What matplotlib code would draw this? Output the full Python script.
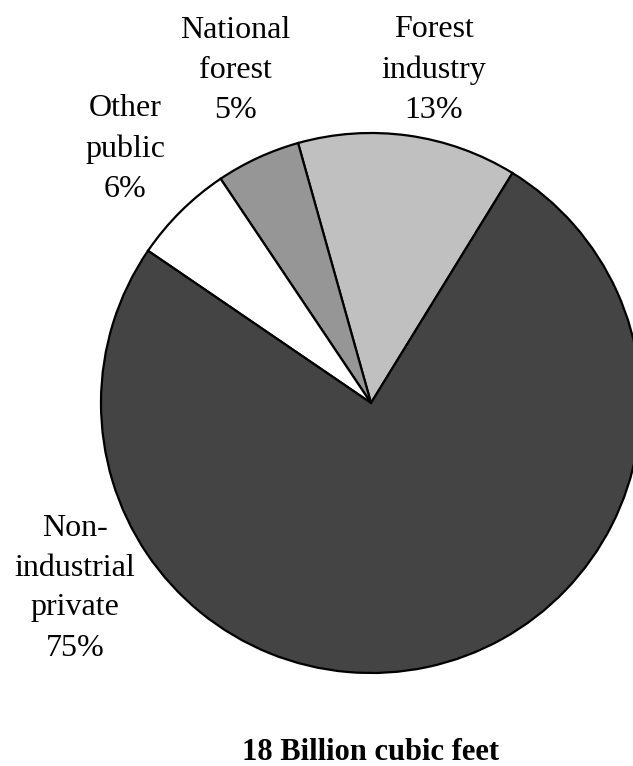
import matplotlib
matplotlib.use("Agg")
import matplotlib.pyplot as plt

categories = ["Forest\nindustry", "National\nforest", "Other\npublic", "Non-\nindustrial\nprivate"]
values = [13, 5, 6, 75]
colors = ["#c0c0c0", "#969696", "#ffffff", "#444444"]
title = "18 Billion cubic feet"

W, H = 633, 766
fig = plt.figure(figsize=(W / 100, H / 100), dpi=100)
ax = fig.add_axes([0, 0, 1, 1])
ax.pie(values, colors=colors, startangle=58.4, counterclock=True,
       center=(371, H - 403), radius=270,
       wedgeprops=dict(edgecolor="black", linewidth=1.6))
ax.set_xlim(0, W)
ax.set_ylim(0, H)
ax.set_aspect("equal")
ax.axis("off")

font = dict(family="Liberation Serif", fontsize=23, linespacing=1.5,
            ha="center", va="center")
label_pos = [(434, 70), (235, 71), (125, 149), (75, 588)]
for cat, v, (x, y) in zip(categories, values, label_pos):
    ax.text(x, H - y, f"{cat}\n{v}%", **font)

ax.text(371, H - 752, title, family="Liberation Serif", fontsize=22,
        fontweight="bold", ha="center", va="center")

fig.savefig("out.png", dpi=100)
